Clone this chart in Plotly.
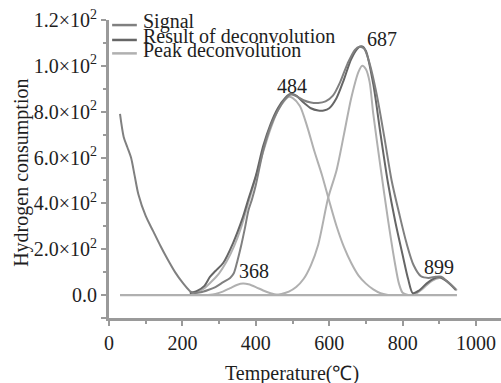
import plotly.graph_objects as go

# ---------------- data ----------------
signal_T = [30, 40, 50, 60, 70, 80, 100, 120, 140, 160, 180, 200, 220, 230, 250, 270, 290, 310, 330,
            340, 350, 360, 370, 380, 390, 400, 420, 440, 460, 480, 495, 510, 530, 550, 570, 590, 610,
            630, 650, 670, 682, 695, 710, 730, 750, 770, 790, 810, 830, 850, 870, 890, 905, 920, 945]
signal_V = [790, 690, 645, 600, 520, 440, 345, 280, 215, 155, 100, 55, 18, 10, 12, 22, 35, 55, 75,
            95, 150, 215, 290, 370, 420, 480, 630, 735, 805, 855, 875, 868, 850, 840, 838, 845, 870,
            930, 1010, 1070, 1083, 1075, 1010, 870, 690, 500, 360, 230, 130, 82, 75, 80, 80, 62, 25]

result_T = [220, 240, 260, 275, 290, 311, 338, 365, 380, 400, 420, 440, 460, 480, 495, 510, 530, 550,
            570, 585, 600, 620, 640, 660, 680, 690, 700, 720, 740, 760, 780, 800, 815, 828, 845, 865,
            885, 900, 920, 945]
result_V = [8, 18, 40, 79, 105, 140, 227, 341, 420, 520, 650, 745, 815, 860, 878, 870, 840, 815,
            805, 805, 815, 860, 940, 1030, 1080, 1085, 1065, 920, 700, 490, 320, 175, 70, 8, 20, 50,
            72, 78, 60, 22]

peakA_T = [270, 290, 310, 330, 350, 365, 380, 400, 420, 440, 460]
peakA_V = [0, 5, 15, 30, 45, 50, 47, 35, 20, 8, 0]

peakB_T = [220, 240, 260, 280, 300, 320, 340, 360, 380, 400, 420, 440, 460, 480, 490, 500, 520, 540,
           560, 580, 600, 620, 640, 660, 680, 700, 720, 740, 760]
peakB_V = [0, 12, 30, 60, 95, 145, 210, 295, 405, 515, 625, 725, 805, 852, 865, 860, 825, 735,
           625, 525, 410, 300, 210, 140, 85, 50, 25, 8, 0]

peakC_T = [450, 470, 490, 510, 530, 550, 570, 597, 620, 640, 660, 680, 690, 700, 710, 720, 740, 760,
           780, 790, 800, 815]
peakC_V = [0, 5, 15, 35, 70, 130, 220, 423, 545, 700, 860, 975, 1000, 985, 930, 790, 555, 330,
           130, 50, 10, 0]

peakD_T = [825, 840, 860, 880, 900, 910, 925, 948]
peakD_V = [0, 10, 35, 62, 75, 72, 55, 20]

baseline_T = [30, 948]
baseline_V = [0, 0]

peak_labels = ["368", "484", "687", "899"]
peak_label_T = [395, 499, 744, 899]
peak_label_V = [105, 913, 1118, 122]

y_tickvals = [0, 200, 400, 600, 800, 1000, 1200]
y_ticktext = ["0.0", "2.0×10<sup>2</sup>", "4.0×10<sup>2</sup>", "6.0×10<sup>2</sup>",
              "8.0×10<sup>2</sup>", "1.0×10<sup>2</sup>", "1.2×10<sup>2</sup>"]
x_tickvals = [0, 200, 400, 600, 800, 1000]

legend_names = ["Signal", "Result of deconvolution", "Peak deconvolution"]
x_title = "Temperature(℃)"
y_title = "Hydrogen consumption"

# ---------------- styles ----------------
C_SIGNAL = "#808080"
C_RESULT = "#666666"
C_PEAK = "#b0b0b0"
C_AXIS = "#9a9a9a"
FONT = "Liberation Serif"
FS = 20
TXT = "#1e1e1e"

fig = go.Figure()

def add(T, V, color, w=2.0):
    fig.add_trace(go.Scatter(x=T, y=V, mode="lines", showlegend=False,
                             line=dict(color=color, width=w, shape="spline", smoothing=0.8),
                             hoverinfo="skip"))

add(baseline_T, baseline_V, C_PEAK, 2.2)
for T, V in [(peakA_T, peakA_V), (peakB_T, peakB_V), (peakC_T, peakC_V), (peakD_T, peakD_V)]:
    add(T, V, C_PEAK, 2.0)
add(result_T, result_V, C_RESULT, 2.0)
add(signal_T, signal_V, C_SIGNAL, 2.0)

for txt, t, v in zip(peak_labels, peak_label_T, peak_label_V):
    fig.add_annotation(x=t, y=v, text=txt, showarrow=False, xanchor="center", yanchor="middle",
                       font=dict(family=FONT, size=FS, color=TXT))

# manual legend (paper coords)
leg_colors = [C_SIGNAL, C_RESULT, C_PEAK]
leg_y = [0.983, 0.933, 0.888]
for name, col, yy in zip(legend_names, leg_colors, leg_y):
    fig.add_shape(type="line", xref="paper", yref="paper", x0=0.008, x1=0.071, y0=yy, y1=yy,
                  line=dict(color=col, width=2.5))
    fig.add_annotation(xref="paper", yref="paper", x=0.082, y=yy + 0.012, text=name, showarrow=False,
                       xanchor="left", yanchor="middle",
                       font=dict(family=FONT, size=FS, color=TXT))

# axis titles as annotations
fig.add_annotation(xref="paper", yref="paper", x=0.467, y=-0.185, text=x_title, showarrow=False,
                   xanchor="center", yanchor="middle", font=dict(family=FONT, size=FS, color=TXT))
fig.add_annotation(xref="paper", yref="paper", x=-0.222, y=0.487, text=y_title, showarrow=False,
                   textangle=-90, xanchor="center", yanchor="middle",
                   font=dict(family=FONT, size=FS, color=TXT))

fig.update_layout(
    width=501, height=383,
    margin=dict(l=109, r=0, t=20, b=65),
    paper_bgcolor="white", plot_bgcolor="white",
    showlegend=False,
    font=dict(family=FONT, size=FS, color=TXT),
)
fig.update_xaxes(range=[0, 1068], showgrid=False, zeroline=False,
                 showline=True, linecolor=C_AXIS, linewidth=3,
                 tickvals=x_tickvals, ticks="outside", ticklen=5, tickwidth=2, tickcolor=C_AXIS,
                 minor=dict(tickvals=[100, 300, 500, 700, 900], ticks="outside", ticklen=3,
                            tickwidth=2, tickcolor=C_AXIS),
                 tickfont=dict(family=FONT, size=FS, color=TXT))
fig.update_yaxes(range=[-100, 1200], showgrid=False, zeroline=False,
                 showline=True, linecolor=C_AXIS, linewidth=3,
                 tickvals=y_tickvals + [-100], ticktext=y_ticktext + [""],
                 ticks="outside", ticklen=5, tickwidth=2, tickcolor=C_AXIS,
                 minor=dict(tickvals=[100, 300, 500, 700, 900, 1100], ticks="outside", ticklen=3,
                            tickwidth=2, tickcolor=C_AXIS),
                 tickfont=dict(family=FONT, size=FS, color=TXT))

fig.write_html("out.html")
